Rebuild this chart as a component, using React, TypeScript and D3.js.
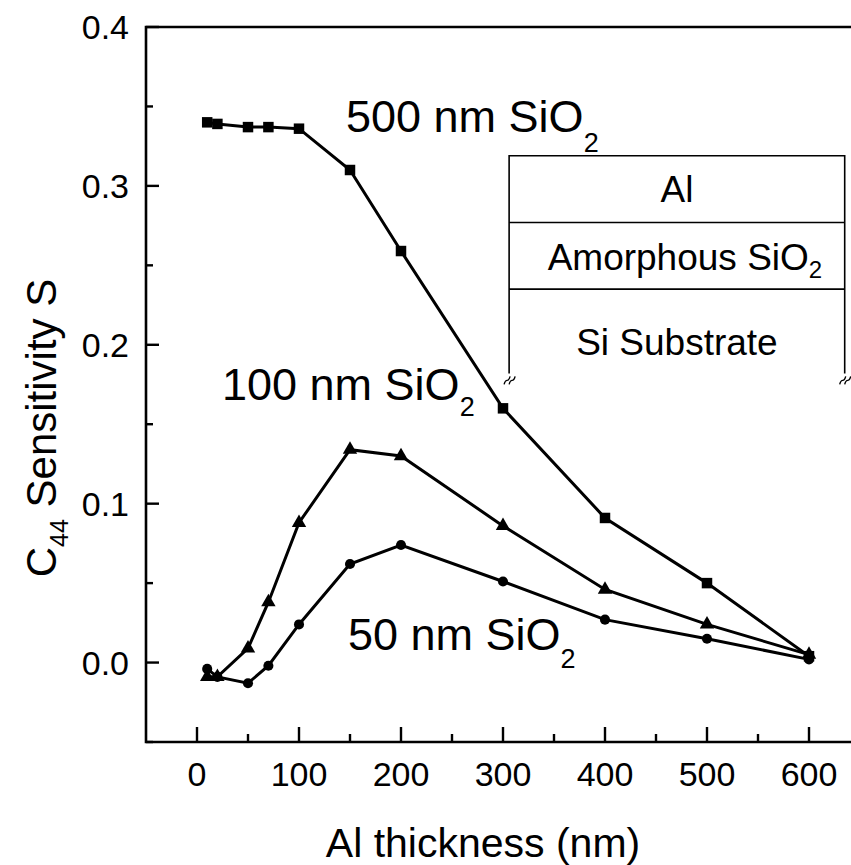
import React, { useRef, useEffect } from "react";
import * as d3 from "d3";

// Al thickness (nm) at which each film was simulated
const thickness = [10, 20, 50, 70, 100, 150, 200, 300, 400, 500, 600];
// C44 sensitivity for the three SiO2 thicknesses
const sio2_500 = [0.34, 0.339, 0.337, 0.337, 0.336, 0.31, 0.259, 0.16, 0.091, 0.05, 0.004];
const sio2_100 = [-0.009, -0.009, 0.009, 0.038, 0.088, 0.134, 0.13, 0.086, 0.046, 0.024, 0.005];
const sio2_50 = [-0.004, -0.009, -0.013, -0.002, 0.024, 0.062, 0.074, 0.051, 0.027, 0.015, 0.002];

const xTicks = [0, 100, 200, 300, 400, 500, 600];
const xMinor = [50, 150, 250, 350, 450, 550];
const yTicks = [0, 0.1, 0.2, 0.3, 0.4];
const yMinor = [-0.05, 0.05, 0.15, 0.25, 0.35];

const seriesNames = ["500 nm SiO", "100 nm SiO", "50 nm SiO"];
const insetLayers = ["Al", "Amorphous SiO", "Si Substrate"];

const FONT = "Liberation Sans, Arial, sans-serif";

const App = () => {
  const ref = useRef<SVGSVGElement>(null);

  useEffect(() => {
    if (!ref.current) return;
    const svg = d3.select(ref.current);
    svg.selectAll("*").remove();

    const x = d3.scaleLinear().domain([-50, 650]).range([146, 860]);
    const y = d3.scaleLinear().domain([-0.05, 0.4]).range([742, 27]);

    const g = svg.append("g");

    // frame: left, bottom and top lines (right side is cut off)
    g.append("path")
      .attr("d", `M${x(650)},${y(0.4)} H${x(-50)} V${y(-0.05)} H${x(650)}`)
      .attr("fill", "none")
      .attr("stroke", "#000")
      .attr("stroke-width", 2.6);

    // bottom ticks (inward)
    g.selectAll(".xt")
      .data(xTicks)
      .enter()
      .append("line")
      .attr("x1", (d) => x(d))
      .attr("x2", (d) => x(d))
      .attr("y1", y(-0.05))
      .attr("y2", y(-0.05) - 15)
      .attr("stroke", "#000")
      .attr("stroke-width", 2.4);
    g.selectAll(".xm")
      .data(xMinor)
      .enter()
      .append("line")
      .attr("x1", (d) => x(d))
      .attr("x2", (d) => x(d))
      .attr("y1", y(-0.05))
      .attr("y2", y(-0.05) - 8)
      .attr("stroke", "#000")
      .attr("stroke-width", 2.4);
    g.selectAll(".xl")
      .data(xTicks)
      .enter()
      .append("text")
      .attr("x", (d) => x(d))
      .attr("y", 786)
      .attr("text-anchor", "middle")
      .style("font-family", FONT)
      .style("font-size", "34px")
      .text((d) => d);

    // left ticks (inward)
    g.selectAll(".yt")
      .data(yTicks)
      .enter()
      .append("line")
      .attr("x1", x(-50))
      .attr("x2", x(-50) + 13)
      .attr("y1", (d) => y(d))
      .attr("y2", (d) => y(d))
      .attr("stroke", "#000")
      .attr("stroke-width", 2.4);
    g.selectAll(".ym")
      .data(yMinor)
      .enter()
      .append("line")
      .attr("x1", x(-50))
      .attr("x2", x(-50) + 7)
      .attr("y1", (d) => y(d))
      .attr("y2", (d) => y(d))
      .attr("stroke", "#000")
      .attr("stroke-width", 2.4);
    g.selectAll(".yl")
      .data(yTicks)
      .enter()
      .append("text")
      .attr("x", 129)
      .attr("y", (d) => y(d) + 12)
      .attr("text-anchor", "end")
      .style("font-family", FONT)
      .style("font-size", "34px")
      .text((d) => d3.format(".1f")(d));

    // axis titles
    g.append("text")
      .attr("x", 483)
      .attr("y", 857)
      .attr("text-anchor", "middle")
      .style("font-family", FONT)
      .style("font-size", "41px")
      .text("Al thickness (nm)");

    const yt = g
      .append("text")
      .attr("transform", `translate(56,428) rotate(-90)`)
      .attr("text-anchor", "middle")
      .style("font-family", FONT)
      .style("font-size", "42px");
    yt.append("tspan").text("C");
    yt.append("tspan").attr("dy", 12).style("font-size", "25px").text("44");
    yt.append("tspan").attr("dy", -12).text(" Sensitivity S");

    // series
    const series = [
      { vals: sio2_500, shape: d3.symbolSquare, size: 110 },
      { vals: sio2_100, shape: d3.symbolTriangle, size: 90 },
      { vals: sio2_50, shape: d3.symbolCircle, size: 80 },
    ];
    const line = d3
      .line<number>()
      .x((_, i) => x(thickness[i]))
      .y((d) => y(d));

    series.forEach((s) => {
      g.append("path")
        .attr("d", line(s.vals))
        .attr("fill", "none")
        .attr("stroke", "#000")
        .attr("stroke-width", 3);
      g.selectAll(null)
        .data(s.vals)
        .enter()
        .append("path")
        .attr("d", d3.symbol(s.shape, s.size)())
        .attr("transform", (d, i) => `translate(${x(thickness[i])},${y(d)})`)
        .attr("fill", "#000");
    });

    // series labels with subscript 2
    const labelPos = [
      { lx: 346, ly: 0.334, drop: 20 },
      { lx: 222, ly: 0.165, drop: 16 },
      { lx: 348, ly: 0.008, drop: 18 },
    ];
    seriesNames.forEach((name, i) => {
      const t = g
        .append("text")
        .attr("x", labelPos[i].lx)
        .attr("y", y(labelPos[i].ly))
        .style("font-family", FONT)
        .style("font-size", "45px");
      t.append("tspan").text(name);
      t.append("tspan").attr("dy", labelPos[i].drop).style("font-size", "27px").text("2");
    });

    // inset: layer stack sketch
    const ix0 = x(306);
    const ix1 = x(635);
    const rows = [0.319, 0.277, 0.235];
    const bottom = y(0.182);
    g.append("path")
      .attr(
        "d",
        `M${ix0},${bottom} V${y(rows[0])} H${ix1} V${bottom}` +
          ` M${ix0},${y(rows[1])} H${ix1} M${ix0},${y(rows[2])} H${ix1}`
      )
      .attr("fill", "none")
      .attr("stroke", "#000")
      .attr("stroke-width", 1.6);
    // break marks
    [ix0, ix1].forEach((bx) => {
      [0, 5].forEach((o) => {
        g.append("path")
          .attr("d", `M${bx - 5 + o},${bottom + 11} q1,-4 3,-4 q2,0 3,-4`)
          .attr("fill", "none")
          .attr("stroke", "#000")
          .attr("stroke-width", 1.4);
      });
    });
    const layerText = [
      { ty: 202, size: 37 },
      { ty: 270, size: 37 },
      { ty: 355, size: 37 },
    ];
    insetLayers.forEach((name, i) => {
      const t = g
        .append("text")
        .attr("x", (ix0 + ix1) / 2 + (i === 1 ? 8 : 0))
        .attr("y", layerText[i].ty)
        .attr("text-anchor", "middle")
        .style("font-family", FONT)
        .style("font-size", `${layerText[i].size}px`);
      t.append("tspan").text(name);
      if (i === 1) {
        t.append("tspan").attr("dy", 8).style("font-size", "24px").text("2");
      }
    });
  }, []);

  return (
    <svg
      ref={ref}
      width={851}
      height={865}
      style={{ position: "absolute", left: 0, top: 0, background: "#fff" }}
    />
  );
};

export default App;
